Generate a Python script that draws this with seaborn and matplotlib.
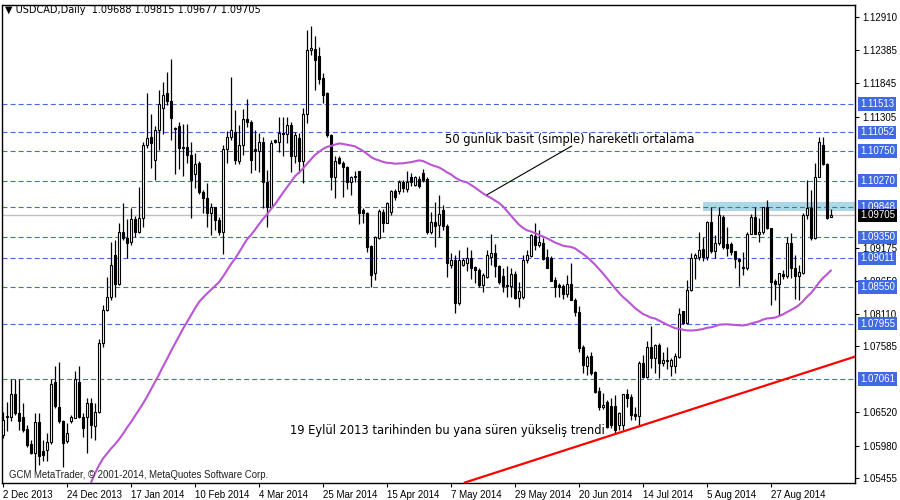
import numpy as np
import pandas as pd
import matplotlib.pyplot as plt
import seaborn as sns

sns.set_theme(style="white")
plt.rcParams['font.family'] = ['Liberation Sans', 'DejaVu Sans']
plt.rcParams['lines.scale_dashes'] = False

# USDCAD günlük mumlar (2 Dec 2013 -> Sep 2014)
opens = [
    1.0615, 1.0644, 1.0645, 1.0682, 1.0651, 1.0644, 1.0625, 1.0601, 1.0586, 1.0636,
    1.0590, 1.0591, 1.0603, 1.0701, 1.0661, 1.0637, 1.0606, 1.0637, 1.0643, 1.0701,
    1.0645, 1.0645, 1.0667, 1.0630, 1.0653, 1.0764, 1.0818, 1.0839, 1.0907, 1.0860,
    1.0944, 1.0934, 1.0928, 1.0964, 1.0944, 1.0967, 1.1085, 1.1098, 1.1061, 1.1109,
    1.1145, 1.1169, 1.1156, 1.1112, 1.1116, 1.1081, 1.1081, 1.1069, 1.1037, 1.1056,
    1.1009, 1.0999, 1.0974, 1.0984, 1.0963, 1.0944, 1.1078, 1.1098, 1.1106, 1.1059,
    1.1084, 1.1127, 1.1122, 1.1078, 1.1075, 1.1090, 1.1025, 1.0985, 1.1093, 1.1090,
    1.1104, 1.1102, 1.1117, 1.1067, 1.1096, 1.1059, 1.1135, 1.1239, 1.1240, 1.1229,
    1.1193, 1.1168, 1.1101, 1.1032, 1.1064, 1.1056, 1.1049, 1.1024, 1.1032, 1.1042,
    1.0980, 1.0975, 1.0921, 1.0878, 1.0934, 1.0976, 1.0959, 1.0976, 1.1010, 1.1010,
    1.1024, 1.1014, 1.1032, 1.1020, 1.1030, 1.1040, 1.1030, 1.0943, 1.0960, 1.0955,
    1.0980, 1.0954, 1.0891, 1.0899, 1.0828, 1.0891, 1.0894, 1.0902, 1.0887, 1.0882,
    1.0858, 1.0871, 1.0904, 1.0910, 1.0889, 1.0873, 1.0858, 1.0856, 1.0876, 1.0837,
    1.0839, 1.0899, 1.0905, 1.0938, 1.0922, 1.0926, 1.0904, 1.0902, 1.0866, 1.0858,
    1.0856, 1.0843, 1.0859, 1.0834, 1.0815, 1.0758, 1.0727, 1.0743, 1.0717, 1.0687,
    1.0660, 1.0669, 1.0662, 1.0662, 1.0632, 1.0632, 1.0682, 1.0677, 1.0649, 1.0646,
    1.0732, 1.0709, 1.0758, 1.0740, 1.0761, 1.0732, 1.0737, 1.0727, 1.0727, 1.0742,
    1.0816, 1.0797, 1.0850, 1.0901, 1.0904, 1.0917, 1.0904, 1.0960, 1.0913, 1.0926,
    1.0968, 1.0925, 1.0925, 1.0913, 1.0900, 1.0887, 1.0885, 1.0941, 1.0968, 1.0941,
    1.0943, 1.0984, 1.0951, 1.0864, 1.0859, 1.0876, 1.0872, 1.0926, 1.0886, 1.0872,
    1.0878, 1.0971, 1.0982, 1.0934, 1.1033, 1.1085, 1.1054, 1.09688,
]
highs = [
    1.0653, 1.0669, 1.0705, 1.0705, 1.0705, 1.0667, 1.0632, 1.0607, 1.0651, 1.0651,
    1.0607, 1.0619, 1.0705, 1.0726, 1.0734, 1.0640, 1.0635, 1.0648, 1.0718, 1.0726,
    1.0651, 1.0675, 1.0675, 1.0667, 1.0771, 1.0826, 1.0871, 1.0928, 1.0931, 1.0959,
    1.0991, 1.0964, 1.0983, 1.0970, 1.1017, 1.1090, 1.1169, 1.1135, 1.1116, 1.1174,
    1.1187, 1.1202, 1.1224, 1.1114, 1.1121, 1.1119, 1.1119, 1.1090, 1.1072, 1.1058,
    1.1011, 1.1023, 1.0991, 1.0985, 1.0968, 1.1085, 1.1107, 1.1195, 1.1141, 1.1117,
    1.1143, 1.1159, 1.1125, 1.1109, 1.1104, 1.1098, 1.1044, 1.1093, 1.1094, 1.1130,
    1.1130, 1.1130, 1.1121, 1.1105, 1.1104, 1.1145, 1.1271, 1.1277, 1.1261, 1.1244,
    1.1201, 1.1170, 1.1103, 1.1066, 1.1066, 1.1058, 1.1050, 1.1034, 1.1042, 1.1043,
    1.0983, 1.0976, 1.0922, 1.0938, 1.0981, 1.0981, 1.0993, 1.1012, 1.1013, 1.1028,
    1.1028, 1.1042, 1.1040, 1.1035, 1.1035, 1.1045, 1.1032, 1.0976, 1.0993, 1.1004,
    1.0988, 1.0956, 1.0910, 1.0907, 1.0915, 1.0902, 1.0920, 1.0915, 1.0889, 1.0886,
    1.0878, 1.0915, 1.0941, 1.0925, 1.0891, 1.0886, 1.0888, 1.0886, 1.0880, 1.0862,
    1.0906, 1.0915, 1.0941, 1.0959, 1.0947, 1.0934, 1.0917, 1.0905, 1.0871, 1.0861,
    1.0859, 1.0874, 1.0894, 1.0837, 1.0824, 1.0761, 1.0745, 1.0750, 1.0719, 1.0693,
    1.0683, 1.0672, 1.0675, 1.0680, 1.0653, 1.0682, 1.0690, 1.0682, 1.0660, 1.0735,
    1.0745, 1.0767, 1.0792, 1.0762, 1.0764, 1.0750, 1.0758, 1.0740, 1.0748, 1.0821,
    1.0816, 1.0866, 1.0909, 1.0909, 1.0944, 1.0936, 1.0962, 1.0985, 1.0939, 1.0985,
    1.0972, 1.0952, 1.0928, 1.0913, 1.0902, 1.0912, 1.0943, 1.0973, 1.0985, 1.0966,
    1.0985, 1.0996, 1.0951, 1.0867, 1.0878, 1.0882, 1.0936, 1.0942, 1.0907, 1.0891,
    1.0975, 1.1028, 1.1012, 1.1056, 1.1098, 1.1098, 1.1056, 1.09815,
]
lows = [
    1.0611, 1.0622, 1.0637, 1.0648, 1.0624, 1.0620, 1.0596, 1.0584, 1.0559, 1.0567,
    1.0573, 1.0573, 1.0600, 1.0659, 1.0635, 1.0563, 1.0602, 1.0635, 1.0643, 1.0643,
    1.0612, 1.0586, 1.0611, 1.0607, 1.0651, 1.0758, 1.0816, 1.0834, 1.0839, 1.0858,
    1.0931, 1.0902, 1.0923, 1.0936, 1.0942, 1.0952, 1.1080, 1.1047, 1.1028, 1.1077,
    1.1103, 1.1150, 1.1093, 1.1038, 1.1046, 1.1035, 1.1056, 1.0967, 1.1015, 1.1006,
    1.0975, 1.0952, 1.0939, 1.0947, 1.0939, 1.0908, 1.1056, 1.1093, 1.1053, 1.1053,
    1.1069, 1.1114, 1.1040, 1.1044, 1.1041, 1.0983, 1.0952, 1.0982, 1.1088, 1.1074,
    1.1067, 1.1088, 1.1041, 1.1056, 1.1040, 1.1023, 1.1120, 1.1230, 1.1174, 1.1184,
    1.1153, 1.1098, 1.1012, 1.0999, 1.1054, 1.1001, 1.1014, 1.1004, 1.1024, 1.0956,
    1.0959, 1.0912, 1.0855, 1.0866, 1.0933, 1.0943, 1.0958, 1.0972, 1.0996, 1.1006,
    1.1009, 1.1009, 1.1019, 1.1018, 1.1015, 1.1025, 1.0940, 1.0940, 1.0920, 1.0935,
    1.0947, 1.0871, 1.0886, 1.0813, 1.0826, 1.0889, 1.0880, 1.0867, 1.0861, 1.0855,
    1.0847, 1.0869, 1.0891, 1.0871, 1.0860, 1.0847, 1.0839, 1.0839, 1.0836, 1.0822,
    1.0836, 1.0893, 1.0903, 1.0915, 1.0919, 1.0899, 1.0885, 1.0864, 1.0839, 1.0838,
    1.0836, 1.0839, 1.0834, 1.0807, 1.0750, 1.0716, 1.0713, 1.0713, 1.0683, 1.0656,
    1.0657, 1.0627, 1.0627, 1.0618, 1.0623, 1.0623, 1.0661, 1.0640, 1.0640, 1.0632,
    1.0708, 1.0708, 1.0724, 1.0716, 1.0708, 1.0727, 1.0722, 1.0711, 1.0716, 1.0740,
    1.0794, 1.0794, 1.0848, 1.0868, 1.0899, 1.0896, 1.0899, 1.0910, 1.0901, 1.0923,
    1.0917, 1.0905, 1.0907, 1.0886, 1.0857, 1.0874, 1.0883, 1.0940, 1.0940, 1.0928,
    1.0941, 1.0948, 1.0826, 1.0834, 1.0810, 1.0868, 1.0869, 1.0869, 1.0836, 1.0834,
    1.0876, 1.0964, 1.0931, 1.0933, 1.1033, 1.1052, 1.0964, 1.09677,
]
closes = [
    1.0640, 1.0646, 1.0682, 1.0651, 1.0637, 1.0624, 1.0599, 1.0586, 1.0636, 1.0581,
    1.0583, 1.0603, 1.0698, 1.0662, 1.0637, 1.0602, 1.0619, 1.0645, 1.0705, 1.0645,
    1.0627, 1.0667, 1.0632, 1.0653, 1.0764, 1.0818, 1.0839, 1.0891, 1.0860, 1.0944,
    1.0934, 1.0926, 1.0964, 1.0944, 1.0967, 1.1085, 1.1096, 1.1087, 1.1109, 1.1151,
    1.1166, 1.1155, 1.1129, 1.1110, 1.1079, 1.1080, 1.1068, 1.1028, 1.1053, 1.1008,
    1.0999, 1.0974, 1.0984, 1.0963, 1.0944, 1.1078, 1.1098, 1.1109, 1.1061, 1.1084,
    1.1127, 1.1121, 1.1061, 1.1075, 1.1090, 1.1025, 1.0985, 1.1088, 1.1090, 1.1104,
    1.1102, 1.1117, 1.1067, 1.1101, 1.1059, 1.1135, 1.1239, 1.1241, 1.1222, 1.1192,
    1.1166, 1.1101, 1.1032, 1.1058, 1.1056, 1.1049, 1.1024, 1.1032, 1.1035, 1.0975,
    1.0975, 1.0920, 1.0874, 1.0936, 1.0978, 1.0959, 1.0991, 1.1010, 1.1001, 1.1024,
    1.1015, 1.1025, 1.1024, 1.1032, 1.1019, 1.1028, 1.0943, 1.0960, 1.0954, 1.0973,
    1.0954, 1.0894, 1.0899, 1.0828, 1.0899, 1.0899, 1.0902, 1.0885, 1.0882, 1.0858,
    1.0874, 1.0907, 1.0910, 1.0888, 1.0862, 1.0857, 1.0856, 1.0876, 1.0837, 1.0848,
    1.0899, 1.0907, 1.0939, 1.0922, 1.0928, 1.0900, 1.0886, 1.0865, 1.0855, 1.0854,
    1.0843, 1.0859, 1.0834, 1.0815, 1.0756, 1.0729, 1.0742, 1.0716, 1.0685, 1.0661,
    1.0664, 1.0628, 1.0632, 1.0623, 1.0651, 1.0682, 1.0675, 1.0648, 1.0646, 1.0732,
    1.0709, 1.0758, 1.0740, 1.0761, 1.0732, 1.0737, 1.0735, 1.0737, 1.0743, 1.0811,
    1.0797, 1.0850, 1.0902, 1.0906, 1.0915, 1.0904, 1.0960, 1.0913, 1.0926, 1.0971,
    1.0920, 1.0918, 1.0912, 1.0900, 1.0897, 1.0885, 1.0941, 1.0968, 1.0941, 1.0943,
    1.0984, 1.0951, 1.0862, 1.0859, 1.0877, 1.0872, 1.0926, 1.0885, 1.0872, 1.0879,
    1.0971, 1.0982, 1.0934, 1.1033, 1.1090, 1.1054, 1.0967, 1.09705,
]

# grafik başlangıcındaki 50 günlük ortalama (mum 22..48), önceki veriler görünmüyor
sma_head = [
    1.0538, 1.0553, 1.0566, 1.0577, 1.0585, 1.0593, 1.0600, 1.0608, 1.0617, 1.0627,
    1.0636, 1.0646, 1.0656, 1.0666, 1.0677, 1.0689, 1.0701, 1.0713, 1.0726, 1.0738,
    1.0751, 1.0763, 1.0775, 1.0787, 1.0798, 1.0809, 1.0820,
]

date_labels = ["2 Dec 2013", "24 Dec 2013", "17 Jan 2014", "10 Feb 2014", "4 Mar 2014",
               "25 Mar 2014", "15 Apr 2014", "7 May 2014", "29 May 2014", "20 Jun 2014",
               "14 Jul 2014", "5 Aug 2014", "27 Aug 2014"]
date_pos = [0, 16, 32, 48, 64, 80, 96, 112, 128, 144, 160, 176, 192]

levels = [1.11513, 1.11052, 1.10750, 1.10270, 1.09848, 1.09350, 1.09011,
          1.08550, 1.07955, 1.07061]
price_ticks = [1.12910, 1.12385, 1.11845, 1.11305, 1.09175, 1.08650, 1.08110,
               1.07585, 1.06520, 1.05980, 1.05455]
last_price = 1.09705
zone = [1.0977, 1.0993]
trend_x = [115.4, 213.0]
trend_y = [1.0538, 1.0742]
note_x = [121.0, 142.2]
note_y = [1.1004, 1.1083]

df = pd.DataFrame({"open": opens, "high": highs, "low": lows, "close": closes})
df["idx"] = np.arange(len(df))
df["sma"] = df["close"].rolling(50).mean()
df.loc[22:48, "sma"] = sma_head

blue = "#4169E1"

fig = plt.figure(figsize=(9, 5), dpi=100)
ax = fig.add_axes([2 / 900, 17 / 500, 853 / 900, 478 / 500])
ax.set_xlim(-0.25, 213)
ax.set_ylim(1.05374, 1.13112)

# destek/direnç bölgesi
ax.axhspan(zone[0], zone[1], xmin=(174.9 + 0.25) / 213.25, xmax=1,
           color="#ADD8E6", zorder=0, lw=0)

for lv in levels:
    ax.axhline(lv, color=blue, lw=0.8, ls=(0, (3.6, 2.2)), zorder=1)
ax.axhline(last_price, color="#C0C0C0", lw=1, zorder=1)

# mumlar
up = df["close"] >= df["open"]
ax.vlines(df["idx"], df["low"], df["high"], color="black", lw=0.9, zorder=3)
body = (df["close"] - df["open"]).abs().clip(lower=0.00004)
bottom = df[["open", "close"]].min(axis=1)
ax.bar(df["idx"], body, bottom=bottom, width=0.6,
       color=np.where(up, "white", "black"), edgecolor="black", linewidth=0.8, zorder=4)

sns.lineplot(data=df, x="idx", y="sma", color="#BA55D3", lw=1.5, ax=ax, zorder=5)

ax.plot(trend_x, trend_y, color="#FF0000", lw=1.6, zorder=5)
ax.plot(note_x, note_y, color="black", lw=0.8, zorder=5)

ax.text(110.5, 1.1093, "50 günlük basit (simple) hareketli ortalama",
        fontsize=8.3, va="center", ha="left", color="black", zorder=6,
        family=["DejaVu Sans"])
ax.text(71.8, 1.0623, "19 Eylül 2013 tarihinden bu yana süren yükseliş trendi",
        fontsize=8.3, va="center", ha="left", color="black", zorder=6,
        family=["DejaVu Sans"])

# eksenler
ax.set_xlabel("")
ax.set_ylabel("")
ax.set_xticks(date_pos)
ax.set_xticklabels(date_labels, ha="left", fontsize=7)
ax.yaxis.tick_right()
ax.set_yticks(price_ticks)
ax.set_yticklabels([f"{t:.5f}" for t in price_ticks], fontsize=7)
ax.tick_params(axis="both", direction="out", length=3, width=0.8, colors="black",
               pad=2, bottom=True, right=True, left=False)
for s in ax.spines.values():
    s.set_color("black")
    s.set_linewidth(1)

ytr = ax.get_yaxis_transform()
for lv in levels:
    ax.text(1.006, lv, f"{lv:.5f}", transform=ytr, fontsize=7, color="white",
            va="center", ha="left", clip_on=False, zorder=7,
            bbox=dict(boxstyle="square,pad=0.18", fc=blue, ec="none"))
ax.text(1.006, last_price, f"{last_price:.5f}", transform=ytr, fontsize=7, color="white",
        va="center", ha="left", clip_on=False, zorder=8,
        bbox=dict(boxstyle="square,pad=0.18", fc="black", ec="none"))

fig.text(5 / 900, 1 - 10 / 500, "▼ USDCAD,Daily  1.09688 1.09815 1.09677 1.09705",
         fontsize=7.0, va="center", ha="left", family=["DejaVu Sans"], color="black")
ax.text(7 / 853, (483 - 475) / 478, "GCM MetaTrader, © 2001-2014, MetaQuotes Software Corp.",
        transform=ax.transAxes, fontsize=6.9, va="center", ha="left", color="#202020", zorder=6)

fig.savefig("out.png", dpi=100, facecolor="white")
